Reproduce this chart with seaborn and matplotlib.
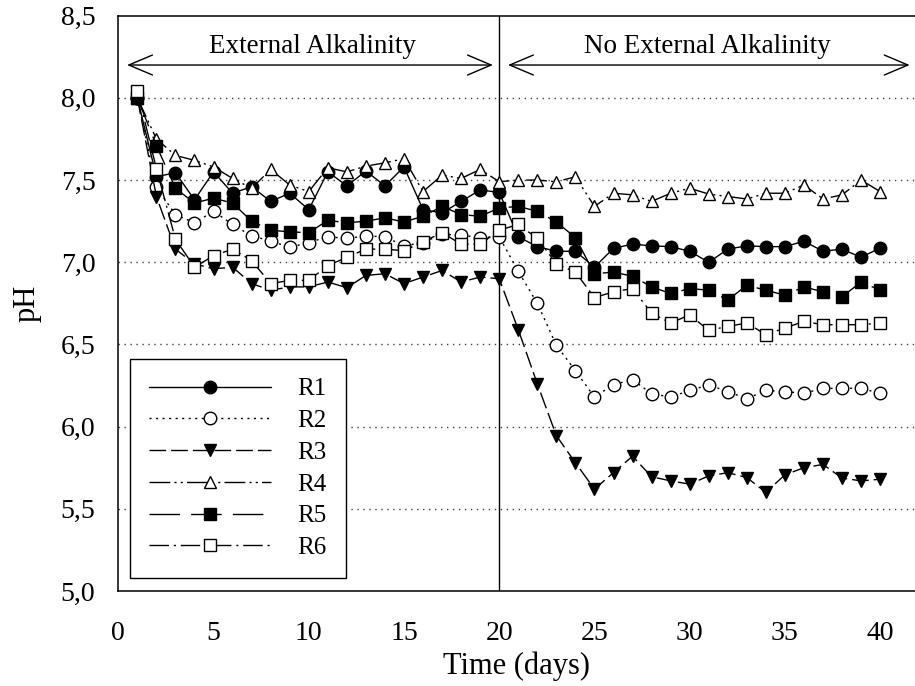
import numpy as np
import pandas as pd
import matplotlib
matplotlib.use("Agg")
import matplotlib.pyplot as plt
import seaborn as sns

# ---------------- data ----------------
days = list(range(1, 41))

R1 = [8.00, 7.52, 7.545, 7.38, 7.55, 7.42, 7.46, 7.37, 7.42, 7.32,
      7.55, 7.465, 7.555, 7.465, 7.58, 7.32, 7.30, 7.37, 7.44, 7.425,
      7.155, 7.095, 7.067, 7.067, 6.97, 7.085, 7.11, 7.10, 7.095, 7.067,
      7.00, 7.08, 7.10, 7.095, 7.095, 7.128, 7.067, 7.08, 7.03, 7.087]
R2 = [8.00, 7.455, 7.29, 7.24, 7.31, 7.23, 7.16, 7.13, 7.09, 7.12,
      7.155, 7.145, 7.16, 7.155, 7.10, 7.12, 7.17, 7.165, 7.15, 7.155,
      6.945, 6.75, 6.495, 6.34, 6.18, 6.256, 6.285, 6.20, 6.18, 6.22,
      6.254, 6.213, 6.17, 6.22, 6.213, 6.203, 6.233, 6.233, 6.233, 6.203]
R3 = [8.00, 7.40, 7.08, 6.99, 6.96, 6.97, 6.87, 6.83, 6.85, 6.85,
      6.88, 6.845, 6.92, 6.93, 6.87, 6.91, 6.95, 6.88, 6.91, 6.90,
      6.59, 6.26, 5.945, 5.78, 5.62, 5.72, 5.82, 5.695, 5.67, 5.65,
      5.70, 5.72, 5.69, 5.60, 5.707, 5.75, 5.77, 5.687, 5.67, 5.68]
R4 = [8.00, 7.75, 7.65, 7.62, 7.58, 7.51, 7.45, 7.565, 7.47, 7.43,
      7.575, 7.55, 7.585, 7.605, 7.63, 7.43, 7.53, 7.51, 7.565, 7.49,
      7.50, 7.50, 7.49, 7.52, 7.34, 7.42, 7.41, 7.37, 7.42, 7.45,
      7.415, 7.40, 7.385, 7.42, 7.42, 7.47, 7.385, 7.41, 7.50, 7.43]
R5 = [8.00, 7.71, 7.45, 7.36, 7.39, 7.36, 7.25, 7.195, 7.185, 7.18,
      7.255, 7.24, 7.25, 7.27, 7.245, 7.28, 7.34, 7.29, 7.28, 7.33,
      7.34, 7.31, 7.245, 7.15, 6.93, 6.94, 6.915, 6.85, 6.81, 6.84,
      6.83, 6.77, 6.86, 6.83, 6.80, 6.85, 6.82, 6.79, 6.88, 6.83]
R6 = [8.04, 7.57, 7.14, 6.97, 7.04, 7.08, 7.01, 6.87, 6.89, 6.89,
      6.98, 7.03, 7.08, 7.08, 7.07, 7.125, 7.18, 7.11, 7.11, 7.195,
      7.23, 7.145, 6.99, 6.94, 6.785, 6.82, 6.84, 6.69, 6.63, 6.68,
      6.585, 6.61, 6.63, 6.56, 6.60, 6.64, 6.62, 6.62, 6.62, 6.63]

series_names = ["R1", "R2", "R3", "R4", "R5", "R6"]
series_values = [R1, R2, R3, R4, R5, R6]

yticks = [5.0, 5.5, 6.0, 6.5, 7.0, 7.5, 8.0, 8.5]
ytick_labels = ["5,0", "5,5", "6,0", "6,5", "7,0", "7,5", "8,0", "8,5"]
xticks = [0, 5, 10, 15, 20, 25, 30, 35, 40]
grid_levels = [5.5, 6.0, 6.5, 7.0, 7.5, 8.0]

phase_labels = ["External Alkalinity", "No External Alkalinity"]
phase_change_day = 20

# ---------------- styles ----------------
styles = {
    "R1": dict(marker="o", markerfacecolor="black", linestyle="-"),
    "R2": dict(marker="o", markerfacecolor="white", linestyle=(0, (1.5, 3.2))),
    "R3": dict(marker="v", markerfacecolor="black", linestyle=(0, (12, 3.6))),
    "R4": dict(marker="^", markerfacecolor="white",
               linestyle=(0, (15, 3, 1.5, 3, 1.5, 3))),
    "R5": dict(marker="s", markerfacecolor="black", linestyle=(0, (22, 8))),
    "R6": dict(marker="s", markerfacecolor="white",
               linestyle=(0, (14, 3.5, 1.5, 3.5))),
}

sns.set_theme(style="white")
plt.rcParams["font.family"] = ["Liberation Serif", "DejaVu Serif"]
plt.rcParams["text.color"] = "black"
plt.rcParams["lines.scale_dashes"] = True

fig = plt.figure(figsize=(9.15, 6.86), dpi=100)
ax = fig.add_axes([0.1293, 0.1385, 1.0 - 0.1293, 0.9771 - 0.1385])

# grid lines
for g in grid_levels:
    ax.axhline(g, color="0.25", lw=1.0, linestyle=(0, (1, 3.3)), zorder=0.5)

ax.axvline(phase_change_day, color="black", lw=1.0, zorder=1)

handles = []
for name, vals in zip(series_names, series_values):
    df = pd.DataFrame({"day": days, "pH": vals})
    n_before = len(ax.lines)
    sns.lineplot(data=df, x="day", y="pH", ax=ax, color="black", lw=1.0,
                 markersize=9, markeredgecolor="black", markeredgewidth=1.0,
                 label=name, legend=False, errorbar=None, **styles[name])
    handles.append(ax.lines[n_before])

ax.set_xlim(0, 41.83)
ax.set_ylim(5.0, 8.5)
ax.set_xticks(xticks)
ax.set_xticklabels([str(t) for t in xticks])
ax.set_yticks(yticks)
ax.set_yticklabels(ytick_labels)
ax.tick_params(axis="both", direction="out", length=6, width=1.0,
               labelsize=20, colors="black")
ax.tick_params(axis="y", pad=10.5)
ax.tick_params(axis="x", pad=15.5)
ax.set_xlabel("Time (days)", fontsize=22, color="black", labelpad=4)
ax.set_ylabel("pH", fontsize=22, color="black", labelpad=14)

for side in ["left", "bottom", "top"]:
    ax.spines[side].set_visible(True)
    ax.spines[side].set_color("black")
    ax.spines[side].set_linewidth(1.1)
ax.spines["right"].set_visible(False)

# phase annotations
arrow_y = 8.2
arrowprops = dict(arrowstyle="<->,head_length=1.7,head_width=0.72",
                  mutation_scale=10, lw=1.0, color="black",
                  shrinkA=0, shrinkB=0)
ax.annotate("", xy=(0.46, arrow_y), xytext=(19.67, arrow_y),
            arrowprops=arrowprops)
ax.annotate("", xy=(20.46, arrow_y), xytext=(41.55, arrow_y),
            arrowprops=arrowprops)
ax.text(10.17, 8.31, phase_labels[0], ha="center", va="center",
        fontsize=19.5, color="black")
ax.text(30.93, 8.31, phase_labels[1], ha="center", va="center",
        fontsize=19.5, color="black")

leg = ax.legend(handles=handles, labels=series_names, loc="lower left",
                bbox_to_anchor=(0.0147, 0.0226), borderaxespad=0,
                fontsize=18, handlelength=4.9, handletextpad=1.05,
                labelspacing=0.37, borderpad=0.75, numpoints=1,
                fancybox=False, frameon=True, framealpha=1,
                edgecolor="black", labelcolor="black")
leg.get_frame().set_linewidth(1.0)

fig.savefig("out.png", dpi=100, facecolor="white")
